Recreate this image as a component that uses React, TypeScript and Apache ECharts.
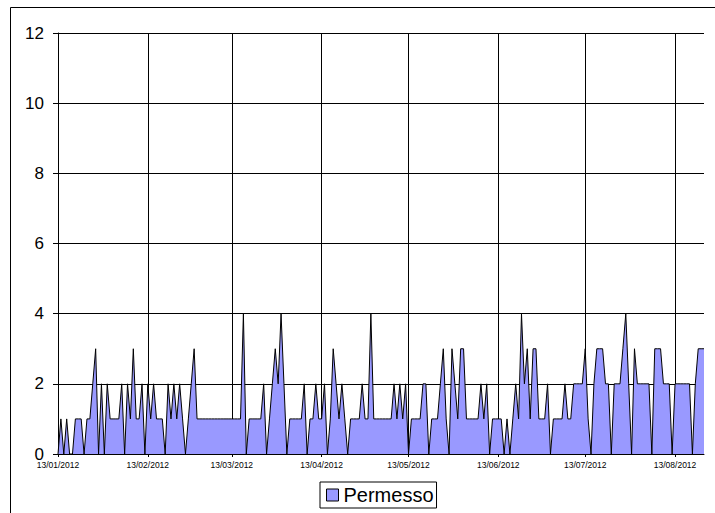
import React, { useEffect, useRef } from "react";
import * as echarts from "echarts";

// Daily counts, 13/01/2012 .. 23/08/2012
const SERIES_NAME = "Permesso";
const START_DAY = { y: 2012, m: 0, d: 13 };
const VALUES: number[] = [
  0, 1, 0, 1, 0, 0, 1, 1, 1, 0, 1, 1, 2, 3, 0, 2, 0, 2, 1, 1,
  1, 1, 2, 0, 2, 1, 3, 1, 1, 2, 0, 2, 1, 2, 1, 1, 1, 0, 2, 1,
  2, 1, 2, 1, 0, 1, 2, 3, 1, 1, 1, 1, 1, 1, 1, 1, 1, 1, 1, 1,
  1, 1, 1, 1, 4, 0, 1, 1, 1, 1, 1, 2, 0, 1, 2, 3, 2, 4, 2, 0,
  1, 1, 1, 1, 1, 2, 0, 1, 1, 2, 1, 1, 2, 0, 1, 3, 2, 1, 2, 1,
  0, 1, 1, 1, 1, 2, 1, 1, 4, 1, 1, 1, 1, 1, 1, 1, 2, 1, 2, 1,
  2, 0, 1, 1, 1, 1, 2, 2, 0, 1, 1, 1, 2, 3, 1, 0, 3, 2, 1, 3,
  3, 1, 1, 1, 1, 1, 2, 1, 2, 0, 1, 1, 1, 1, 0, 1, 0, 1, 2, 1,
  4, 2, 3, 1, 3, 3, 1, 1, 1, 2, 0, 1, 1, 1, 1, 2, 1, 1, 2, 2,
  2, 2, 3, 1, 0, 2, 3, 3, 3, 2, 2, 0, 2, 2, 2, 3, 4, 2, 0, 3,
  2, 2, 2, 2, 2, 0, 3, 3, 3, 2, 2, 2, 0, 2, 2, 2, 2, 2, 2, 0,
  2, 3, 3, 3,
];
const TICK_LABELS = [
  "13/01/2012", "13/02/2012", "13/03/2012", "13/04/2012",
  "13/05/2012", "13/06/2012", "13/07/2012", "13/08/2012",
];
const Y_MIN = 0;
const Y_MAX = 12;
const Y_STEP = 2;

const pad = (n: number) => (n < 10 ? "0" + n : "" + n);
const DATES: string[] = VALUES.map((_, i) => {
  const dt = new Date(START_DAY.y, START_DAY.m, START_DAY.d + i);
  return pad(dt.getDate()) + "/" + pad(dt.getMonth() + 1) + "/" + dt.getFullYear();
});

const FONT = "Arial, 'Liberation Sans', sans-serif";

export default function App() {
  const ref = useRef<HTMLDivElement>(null);
  useEffect(() => {
    document.body.style.margin = "0";
    if (!ref.current) return;
    const chart = echarts.init(ref.current, null, { renderer: "svg" });
    const isTick = (_i: number, v: string) => TICK_LABELS.indexOf(v) >= 0;
    chart.setOption({
      animation: false,
      backgroundColor: "#fff",
      graphic: [
        {
          type: "rect",
          shape: { x: 10.5, y: 7.5, width: 720, height: 520 },
          style: { fill: "none", stroke: "#000", lineWidth: 1 },
          silent: true,
        },
      ],
      grid: { left: 58, top: 33, right: 11, bottom: 59, containLabel: false },
      legend: {
        left: 320,
        top: 482,
        padding: [3, 3, 3, 6],
        borderColor: "#000",
        borderWidth: 1,
        itemWidth: 12,
        itemHeight: 12,
        itemGap: 7,
        textStyle: { fontFamily: FONT, fontSize: 20, color: "#000" },
        data: [
          {
            name: SERIES_NAME,
            icon: "rect",
            itemStyle: { color: "#9999FF", borderColor: "#000", borderWidth: 1 },
          },
        ],
      },
      xAxis: {
        type: "category",
        data: DATES,
        boundaryGap: false,
        axisLine: { show: true, lineStyle: { color: "#000", width: 1 } },
        axisTick: { show: true, interval: isTick, length: 3, lineStyle: { color: "#000" } },
        axisLabel: {
          interval: isTick,
          hideOverlap: false,
          fontFamily: FONT,
          fontSize: 8.5,
          color: "#000",
          margin: 6,
        },
        splitLine: { show: true, interval: isTick, lineStyle: { color: "#000", width: 1 } },
      },
      yAxis: {
        type: "value",
        min: Y_MIN,
        max: Y_MAX,
        interval: Y_STEP,
        axisLine: { show: true, lineStyle: { color: "#000", width: 1 } },
        axisTick: { show: true, length: 5, lineStyle: { color: "#000" } },
        axisLabel: { fontFamily: FONT, fontSize: 17, color: "#000", margin: 14 },
        splitLine: { show: true, lineStyle: { color: "#000", width: 1 } },
      },
      series: [
        {
          name: SERIES_NAME,
          type: "line",
          data: VALUES,
          symbol: "none",
          color: "#9999FF",
          lineStyle: { color: "#000", width: 1 },
          areaStyle: { color: "#9999FF", opacity: 1 },
        },
      ],
    });
    return () => chart.dispose();
  }, []);
  return (
    <div
      ref={ref}
      style={{ position: "absolute", left: 0, top: 0, width: 715, height: 513, background: "#fff" }}
    />
  );
}
